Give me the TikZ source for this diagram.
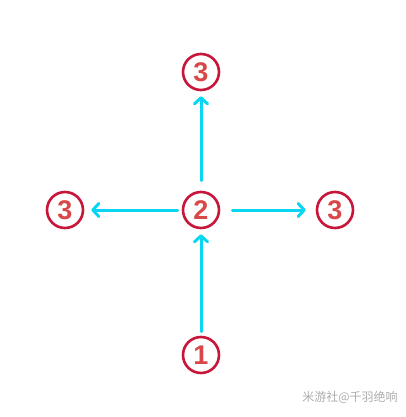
\documentclass[tikz,border=0pt]{standalone}
\usepackage{fontspec}
\setmainfont{Liberation Sans}
\newfontfamily\cjk{Noto Sans CJK SC}
\usetikzlibrary{arrows.meta}
\definecolor{ringred}{HTML}{C8153A}
\definecolor{digitred}{HTML}{D94848}
\definecolor{arrowcyan}{HTML}{08D6F2}
\tikzset{
  ringnode/.style={circle, draw=ringred, line width=2.6pt, minimum size=36pt, inner sep=0pt,
    text=digitred, font=\bfseries\fontsize{27}{27}\selectfont},
  flow/.style={draw=arrowcyan, line width=3pt, line cap=round, shorten <=4pt, shorten >=5pt,
    -{Straight Barb[length=6pt,width=13pt,line width=3pt,round]}}
}
\begin{document}
\begin{tikzpicture}[x=1pt,y=-1pt]
\useasboundingbox (0,0) rectangle (405,417);
\node [ringnode] (top) at (201,72) {3};
\node [ringnode] (mid) at (201,210) {2};
\node [ringnode] (left) at (65,210) {3};
\node [ringnode] (right) at (335,210) {3};
\node [ringnode] (start) at (201,355) {1};
\draw [flow] (start) -- (mid);
\draw [flow, shorten <=10pt] (mid) -- (top);
\draw [flow, shorten >=7pt] (mid) -- (left);
\draw [flow, shorten <=12pt, shorten >=10pt] (mid) -- (right);
\node [text=gray!65, font=\cjk\fontsize{12}{12}\selectfont] (mark) at (350,397) {米游社@千羽绝响};
\end{tikzpicture}
\end{document}
